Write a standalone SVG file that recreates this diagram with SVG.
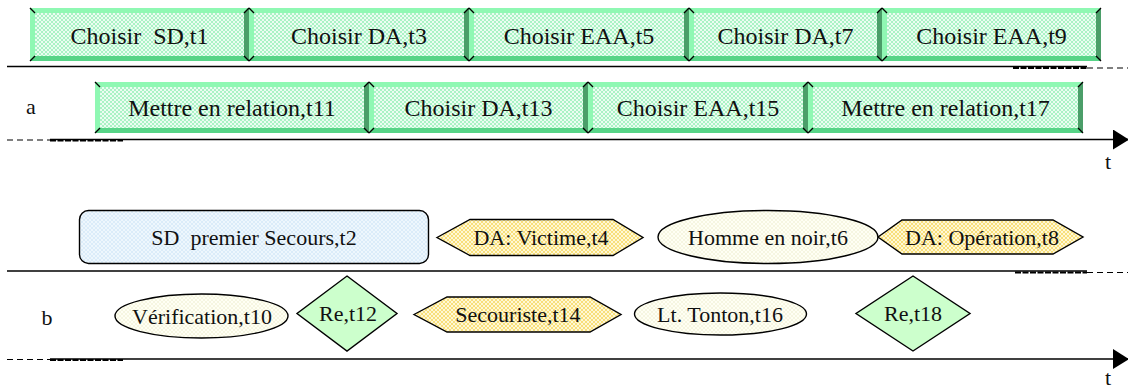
<svg xmlns="http://www.w3.org/2000/svg" width="1128" height="389" viewBox="0 0 1128 389" font-family="'Liberation Serif', 'Times New Roman', Times, 'DejaVu Serif', serif">
  <defs>
    <pattern id="hatchGreen" width="4" height="4" patternUnits="userSpaceOnUse">
      <rect width="4" height="4" fill="#ebfdf1"/>
      <path d="M0 0L4 4M4 0L0 4" stroke="#a3f1c0" stroke-width="0.9"/>
    </pattern>
    <pattern id="hatchYellow" width="4" height="4" patternUnits="userSpaceOnUse">
      <rect width="4" height="4" fill="#fff8d6"/>
      <path d="M0 0L4 4M4 0L0 4" stroke="#f7dc70" stroke-width="0.9"/>
    </pattern>
    <pattern id="hatchBlue" width="4" height="4" patternUnits="userSpaceOnUse">
      <rect width="4" height="4" fill="#eef7fd"/>
      <path d="M0 0L4 4M4 0L0 4" stroke="#d6eaf8" stroke-width="0.8"/>
    </pattern>
    <pattern id="hatchIvory" width="4" height="4" patternUnits="userSpaceOnUse">
      <rect width="4" height="4" fill="#fffff4"/>
      <path d="M0 0L4 4M4 0L0 4" stroke="#f4f4dc" stroke-width="0.8"/>
    </pattern>
    <marker id="arrow" viewBox="0 0 16 20" refX="15" refY="10" markerWidth="16" markerHeight="20" markerUnits="userSpaceOnUse" orient="auto">
      <path d="M0 0L16 10L0 20Z" fill="#000"/>
    </marker>
  </defs>
  <style>
    text { fill: #111; text-anchor: middle; white-space: pre; }
    .big { font-size: 24px; }
    .small { font-size: 22px; }
    .face { fill: url(#hatchGreen); }
    .bt { fill: #8ff8b3; }
    .bl { fill: #8ff8b3; }
    .bb { fill: #57d487; }
    .br { fill: #4b9e69; }
    .bc { fill: none; stroke: #000; stroke-width: 1.4; }
    .shape { stroke: #000; stroke-width: 1.4; }
    .axis { stroke: #000; stroke-width: 1.6; fill: none; }
    .dash { stroke: #000; stroke-width: 1.2; stroke-dasharray: 6 4; fill: none; }
    .dense { stroke: #000; stroke-width: 2.2; stroke-dasharray: 6 1.5; fill: none; }
  </style>

  <!-- time axes -->
  <g id="connectors">
    <line class="axis" x1="7" y1="66.5" x2="1087" y2="66.5"/>
    <line class="dense" x1="1013" y1="68" x2="1087" y2="68"/>
    <line class="dash" x1="1087" y1="68" x2="1128" y2="68"/>

    <line class="dash" x1="7" y1="140" x2="50" y2="140"/>
    <line class="dense" x1="50" y1="140.5" x2="123" y2="140.5"/>
    <line class="axis" x1="50" y1="139.5" x2="1128" y2="139.5" marker-end="url(#arrow)"/>

    <line class="axis" x1="7" y1="271" x2="1087" y2="271"/>
    <line class="dense" x1="1015" y1="272.5" x2="1087" y2="272.5"/>
    <line class="dash" x1="1087" y1="272.5" x2="1128" y2="272.5"/>

    <line class="dash" x1="7" y1="359.5" x2="50" y2="359.5"/>
    <line class="dense" x1="50" y1="360" x2="123" y2="360"/>
    <line class="axis" x1="50" y1="359" x2="1128" y2="359" marker-end="url(#arrow)"/>
  </g>

  <!-- axis labels -->
  <g id="labels">
    <text class="small" x="31" y="114">a</text>
    <text class="small" x="1108" y="169">t</text>
    <text class="small" x="47" y="325">b</text>
    <text class="small" x="1108" y="385">t</text>
  </g>

  <!-- upper row of bevelled task boxes -->
  <g id="t1" transform="translate(30,8)">
    <rect class="face" width="219" height="53"/>
    <polygon class="bt" points="0,0 219,0 214,5 5,5"/>
    <polygon class="bb" points="0,53 219,53 214,48 5,48"/>
    <polygon class="bl" points="0,0 5,5 5,48 0,53"/>
    <polygon class="br" points="219,0 214,5 214,48 219,53"/>
    <path class="bc" d="M0 0l5 5M219 0l-5 5M0 53l5 -5M219 53l-5 -5"/>
    <text class="big" x="109.5" y="35.5" xml:space="preserve">Choisir  SD,t1</text>
  </g>
  <g id="t3" transform="translate(249,8)">
    <rect class="face" width="220" height="53"/>
    <polygon class="bt" points="0,0 220,0 215,5 5,5"/>
    <polygon class="bb" points="0,53 220,53 215,48 5,48"/>
    <polygon class="bl" points="0,0 5,5 5,48 0,53"/>
    <polygon class="br" points="220,0 215,5 215,48 220,53"/>
    <path class="bc" d="M0 0l5 5M220 0l-5 5M0 53l5 -5M220 53l-5 -5"/>
    <text class="big" x="110" y="35.5">Choisir DA,t3</text>
  </g>
  <g id="t5" transform="translate(469,8)">
    <rect class="face" width="220" height="53"/>
    <polygon class="bt" points="0,0 220,0 215,5 5,5"/>
    <polygon class="bb" points="0,53 220,53 215,48 5,48"/>
    <polygon class="bl" points="0,0 5,5 5,48 0,53"/>
    <polygon class="br" points="220,0 215,5 215,48 220,53"/>
    <path class="bc" d="M0 0l5 5M220 0l-5 5M0 53l5 -5M220 53l-5 -5"/>
    <text class="big" x="110" y="35.5">Choisir EAA,t5</text>
  </g>
  <g id="t7" transform="translate(689,8)">
    <rect class="face" width="193" height="53"/>
    <polygon class="bt" points="0,0 193,0 188,5 5,5"/>
    <polygon class="bb" points="0,53 193,53 188,48 5,48"/>
    <polygon class="bl" points="0,0 5,5 5,48 0,53"/>
    <polygon class="br" points="193,0 188,5 188,48 193,53"/>
    <path class="bc" d="M0 0l5 5M193 0l-5 5M0 53l5 -5M193 53l-5 -5"/>
    <text class="big" x="96.5" y="35.5">Choisir DA,t7</text>
  </g>
  <g id="t9" transform="translate(882,8)">
    <rect class="face" width="219" height="53"/>
    <polygon class="bt" points="0,0 219,0 214,5 5,5"/>
    <polygon class="bb" points="0,53 219,53 214,48 5,48"/>
    <polygon class="bl" points="0,0 5,5 5,48 0,53"/>
    <polygon class="br" points="219,0 214,5 214,48 219,53"/>
    <path class="bc" d="M0 0l5 5M219 0l-5 5M0 53l5 -5M219 53l-5 -5"/>
    <text class="big" x="109.5" y="35.5">Choisir EAA,t9</text>
  </g>

  <!-- lower row of bevelled task boxes -->
  <g id="t11" transform="translate(95,82)">
    <rect class="face" width="274" height="51"/>
    <polygon class="bt" points="0,0 274,0 269,5 5,5"/>
    <polygon class="bb" points="0,51 274,51 269,46 5,46"/>
    <polygon class="bl" points="0,0 5,5 5,46 0,51"/>
    <polygon class="br" points="274,0 269,5 269,46 274,51"/>
    <path class="bc" d="M0 0l5 5M274 0l-5 5M0 51l5 -5M274 51l-5 -5"/>
    <text class="big" x="137" y="34">Mettre en relation,t11</text>
  </g>
  <g id="t13" transform="translate(369,82)">
    <rect class="face" width="219" height="51"/>
    <polygon class="bt" points="0,0 219,0 214,5 5,5"/>
    <polygon class="bb" points="0,51 219,51 214,46 5,46"/>
    <polygon class="bl" points="0,0 5,5 5,46 0,51"/>
    <polygon class="br" points="219,0 214,5 214,46 219,51"/>
    <path class="bc" d="M0 0l5 5M219 0l-5 5M0 51l5 -5M219 51l-5 -5"/>
    <text class="big" x="109.5" y="34">Choisir DA,t13</text>
  </g>
  <g id="t15" transform="translate(588,82)">
    <rect class="face" width="220" height="51"/>
    <polygon class="bt" points="0,0 220,0 215,5 5,5"/>
    <polygon class="bb" points="0,51 220,51 215,46 5,46"/>
    <polygon class="bl" points="0,0 5,5 5,46 0,51"/>
    <polygon class="br" points="220,0 215,5 215,46 220,51"/>
    <path class="bc" d="M0 0l5 5M220 0l-5 5M0 51l5 -5M220 51l-5 -5"/>
    <text class="big" x="110" y="34">Choisir EAA,t15</text>
  </g>
  <g id="t17" transform="translate(808,82)">
    <rect class="face" width="275" height="51"/>
    <polygon class="bt" points="0,0 275,0 270,5 5,5"/>
    <polygon class="bb" points="0,51 275,51 270,46 5,46"/>
    <polygon class="bl" points="0,0 5,5 5,46 0,51"/>
    <polygon class="br" points="275,0 270,5 270,46 275,51"/>
    <path class="bc" d="M0 0l5 5M275 0l-5 5M0 51l5 -5M275 51l-5 -5"/>
    <text class="big" x="137.5" y="34">Mettre en relation,t17</text>
  </g>

  <!-- b: upper row of entities -->
  <g id="t2">
    <rect class="shape" x="79.5" y="210.5" width="349" height="53" rx="9" fill="url(#hatchBlue)"/>
    <text class="small" x="254" y="245" xml:space="preserve">SD  premier Secours,t2</text>
  </g>
  <g id="t4">
    <polygon class="shape" points="437,237.5 470,219.5 613,219.5 643,237.5 613,255.5 470,255.5" fill="url(#hatchYellow)"/>
    <text class="small" x="541" y="245">DA: Victime,t4</text>
  </g>
  <g id="t6">
    <ellipse class="shape" cx="768" cy="237" rx="110" ry="26.5" fill="url(#hatchIvory)"/>
    <text class="small" x="768" y="245">Homme en noir,t6</text>
  </g>
  <g id="t8">
    <polygon class="shape" points="878,237 902,220 1053,220 1083,237 1053,254 902,254" fill="url(#hatchYellow)"/>
    <text class="small" x="982" y="245">DA: Opération,t8</text>
  </g>

  <!-- b: lower row of entities -->
  <g id="t10">
    <ellipse class="shape" cx="201.5" cy="316" rx="86.5" ry="22" fill="url(#hatchIvory)"/>
    <text class="small" x="202" y="324">Vérification,t10</text>
  </g>
  <g id="t12">
    <polygon class="shape" points="347,276 397,313.5 347,351 297,313.5" fill="#ccffcc"/>
    <text class="small" x="348" y="321">Re,t12</text>
  </g>
  <g id="t14">
    <polygon class="shape" points="414,314.5 447,297 590,297 621,314.5 590,332 447,332" fill="url(#hatchYellow)"/>
    <text class="small" x="518" y="322">Secouriste,t14</text>
  </g>
  <g id="t16">
    <ellipse class="shape" cx="720.5" cy="314" rx="86" ry="21" fill="url(#hatchIvory)"/>
    <text class="small" x="720" y="322">Lt. Tonton,t16</text>
  </g>
  <g id="t18">
    <polygon class="shape" points="913,276 970,313.5 913,351 856,313.5" fill="#ccffcc"/>
    <text class="small" x="913" y="321">Re,t18</text>
  </g>
</svg>
